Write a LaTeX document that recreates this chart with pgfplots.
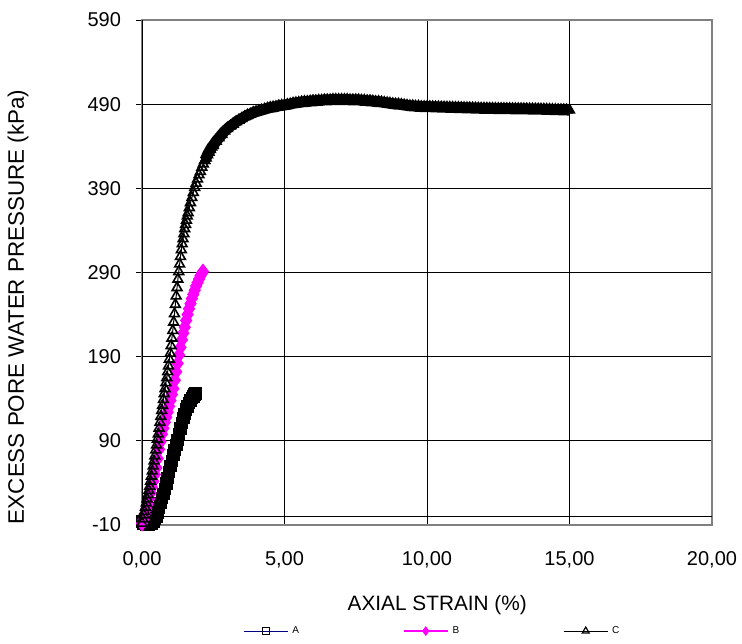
\documentclass[border=0pt]{standalone}
\usepackage{fontspec}
\setmainfont{Liberation Sans}
\usepackage{pgfplots}
\pgfplotsset{compat=1.18}
\definecolor{navyA}{RGB}{0,0,128}
\definecolor{magB}{RGB}{255,0,255}
\definecolor{frameg}{RGB}{128,128,128}
\begin{document}
\begin{tikzpicture}
\path[use as bounding box] (-71pt,-59pt) rectangle (300pt,262.5pt);
\begin{axis}[
  at={(0,0)}, anchor=south west,
  scale only axis, width=285pt, height=252.5pt,
  xmin=0, xmax=20, ymin=-10, ymax=590,
  xtick={0,5,10,15,20},
  xticklabels={{0,00},{5,00},{10,00},{15,00},{20,00}},
  ytick={-10,90,190,290,390,490,590},
  yticklabels={-10,90,190,290,390,490,590},
  grid=major, major grid style={black, line width=0.5pt},
  axis line style={frameg, line width=1pt},
  ytick pos=left, xtick pos=bottom,
  tick align=outside, major tick length=3pt,
  ytick style={black, line width=0.5pt},
  xtick style={draw=none},
  ticklabel style={font=\fontsize{10}{12}\selectfont},
  xticklabel style={yshift=-6.5pt},
  yticklabel style={xshift=-4pt},
  xlabel={AXIAL STRAIN (\%)},
  ylabel={EXCESS PORE WATER PRESSURE (kPa)},
  every axis x label/.style={at={(axis description cs:0.518,0)}, yshift=-40pt, anchor=center, font=\fontsize{10.4}{12}\selectfont},
  every axis y label/.style={at={(axis description cs:-0.2175,0.432)}, rotate=90, anchor=center, font=\fontsize{11.2}{13}\selectfont},
  legend style={at={(axis description cs:0.177,-0.21)}, anchor=west, draw=none, fill=none,
    font=\fontsize{5}{6}\selectfont, inner sep=0pt,
    /tikz/every even column/.append style={column sep=50pt}},
  legend columns=3,
  legend image code/.code={\draw[mark repeat=2,mark phase=2,#1] plot coordinates {(0pt,0pt)(11pt,0pt)(22pt,0pt)};},
]
\draw[black, line width=1pt] (axis cs:0,-10) -- (axis cs:0,590);
\draw[black, line width=0.5pt] (axis cs:0,0) -- (axis cs:20,0);
\addlegendimage{color=navyA, line width=0.5pt, mark=square, mark size=1.75pt, mark options={black, fill=white, solid, line width=0.6pt}}
\addlegendentry{A}
\addlegendimage{color=magB, line width=0.8pt, mark=diamond*, mark size=1.8pt, mark options={magB, solid}}
\addlegendentry{B}
\addlegendimage{color=black, line width=0.5pt, mark=triangle, mark size=2pt, mark options={black, fill=white, solid, line width=0.6pt}}
\addlegendentry{C}
% Series A
\addplot[forget plot, color=navyA, line width=0.5pt, mark=square*, mark size=2.9pt, mark options={black, solid}] coordinates {
(0.00,-6)(0.05,-8)(0.10,-9)(0.15,-10)(0.20,-10)(0.25,-10)(0.30,-9)(0.35,-8)(0.40,-6)(0.45,-3)
(0.50,0)(0.55,5)(0.60,10)(0.65,16)(0.70,22)(0.75,27)(0.80,33)(0.85,39)(0.90,46)(0.95,53)
(1.00,60)(1.05,66)(1.10,73)(1.15,79)(1.20,85)(1.25,91)(1.30,98)(1.35,105)(1.40,111)(1.45,117)
(1.50,122)(1.55,127)(1.60,131)(1.65,135)(1.70,138)(1.75,141)(1.80,143)(1.82,144)(1.84,145)(1.86,145)(1.88,146)
};
% Series B
\addplot[forget plot, color=magB, line width=0.5pt, mark=diamond*, mark size=3.7pt, mark options={magB, solid}] coordinates {
(0.00,-8)(0.05,-3)(0.10,3)(0.15,9)(0.20,15)(0.25,21)(0.30,28)(0.35,35)(0.40,42)(0.45,50)
(0.50,58)(0.55,69)(0.60,80)(0.65,89)(0.70,98)(0.75,105)(0.80,112)(0.85,118)(0.90,124)(0.95,131)
(1.00,138)(1.05,145)(1.10,152)(1.15,162)(1.20,172)(1.25,182)(1.30,192)(1.35,201)(1.40,210)(1.45,218)
(1.50,225)(1.55,233)(1.60,240)(1.65,247)(1.70,253)(1.75,259)(1.80,264)(1.85,269)(1.90,274)(1.95,278)
(2.00,282)(2.05,286)(2.10,289)(2.14,291)
};
% Series C, rising part
\addplot[forget plot, color=black, line width=0.5pt, mark=triangle, mark size=2.8pt, mark options={black, fill=white, solid, line width=0.8pt}] coordinates {
(0.00,-8)(0.03,-3)(0.06,2)(0.09,6)(0.12,11)(0.15,16)(0.18,21)(0.21,26)(0.24,31)(0.27,36)
(0.30,42)(0.33,48)(0.36,54)(0.39,60)(0.42,66)(0.45,72)(0.48,79)(0.51,85)(0.54,92)(0.57,98)
(0.60,105)(0.63,112)(0.66,119)(0.69,126)(0.72,132)(0.75,139)(0.78,146)(0.81,152)(0.84,159)(0.87,165)
(0.90,172)(0.93,179)(0.96,187)(0.99,194)(1.02,203)(1.05,212)(1.08,221)(1.11,231)(1.14,241)(1.17,252)
(1.20,262)(1.23,272)(1.26,282)(1.29,291)(1.32,300)(1.35,309)(1.38,317)(1.41,324)(1.44,330)(1.47,336)
(1.50,342)(1.53,347)(1.56,352)(1.59,357)(1.62,361)(1.66,367)(1.70,373)(1.75,379)(1.80,385)(1.85,391)
(1.90,396)(1.95,401)(2.00,406)(2.05,410)(2.10,415)(2.15,419)(2.20,423)
};
% Series C, plateau part (dense markers form a solid band)
\addplot[forget plot, color=black, line width=5.5pt, mark=triangle*, mark size=2.8pt, mark options={black, solid, line width=0.8pt}] coordinates {
(2.20,423)(2.25,426)(2.30,430)(2.35,433)(2.40,436)(2.45,439)(2.50,441)
(2.6,446)(2.7,450)(2.8,454)(2.9,458)(3.0,461)(3.1,464)(3.2,466)(3.3,469)(3.4,471)(3.5,473)
(3.6,475)(3.7,477)(3.8,478)(3.9,480)(4.0,481)(4.1,482)(4.2,483)(4.3,484)(4.4,485)(4.5,486)
(4.6,486.5)(4.7,487)(4.8,488)(4.9,488.5)(5.0,489)(5.1,489.5)(5.2,490)(5.3,491)(5.4,491.5)(5.5,492)
(5.6,492.5)(5.7,493)(5.8,493)(5.9,493.5)(6.0,494)(6.1,494)(6.2,494.5)(6.3,494.5)(6.4,495)(6.5,495)
(6.6,495)(6.7,495.5)(6.8,495.5)(6.9,495.5)(7.0,495.5)(7.1,495.5)(7.2,495.5)(7.3,495)(7.4,495)(7.5,495)
(7.6,495)(7.7,494.5)(7.8,494.5)(7.9,494)(8.0,494)(8.1,493.5)(8.2,493)(8.3,493)(8.4,492.5)(8.5,492)
(8.6,491.5)(8.7,491)(8.8,490.5)(8.9,490)(9.0,490)(9.1,489.5)(9.2,489)(9.3,488.5)(9.4,488)(9.5,488)
(9.6,487.5)(9.7,487.5)(9.8,487)(9.9,487)(10.0,487)(10.1,487)(10.2,486.8)(10.3,486.7)(10.4,486.6)(10.5,486.5)
(10.6,486.4)(10.7,486.3)(10.8,486.2)(10.9,486.1)(11.0,486)(11.1,485.9)(11.2,485.8)(11.3,485.7)(11.4,485.6)(11.5,485.5)
(11.6,485.4)(11.7,485.3)(11.8,485.2)(11.9,485.1)(12.0,485)(12.1,485)(12.2,484.9)(12.3,484.9)(12.4,484.8)(12.5,484.8)
(12.6,484.7)(12.7,484.7)(12.8,484.6)(12.9,484.6)(13.0,484.5)(13.1,484.5)(13.2,484.4)(13.3,484.4)(13.4,484.3)(13.5,484.3)
(13.6,484.2)(13.7,484.2)(13.8,484.1)(13.9,484.1)(14.0,484)(14.1,483.9)(14.2,483.8)(14.3,483.7)(14.4,483.6)(14.5,483.5)
(14.6,483.4)(14.7,483.3)(14.8,483.2)(14.9,483.1)(15.0,483)
};
\end{axis}
\end{tikzpicture}
\end{document}
